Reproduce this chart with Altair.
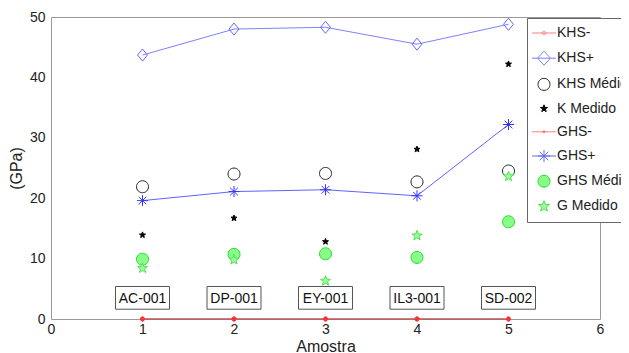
import math
import altair as alt
import pandas as pd

# ---------------- data ----------------
samples = [1, 2, 3, 4, 5]
sample_labels = ["AC-001", "DP-001", "EY-001", "IL3-001", "SD-002"]
label_y = [3.5, 3.5, 3.5, 3.5, 3.5]

khs_minus = [0, 0, 0, 0, 0]
khs_plus = [43.7, 48.0, 48.3, 45.5, 48.8]
khs_medio = [21.9, 24.0, 24.1, 22.7, 24.5]
k_medido = [13.9, 16.7, 12.8, 28.1, 42.2]
ghs_minus = [0, 0, 0, 0, 0]
ghs_plus = [19.6, 21.1, 21.4, 20.4, 32.2]
ghs_medio = [9.9, 10.7, 10.8, 10.2, 16.1]
g_medido = [8.4, 9.8, 6.3, 13.8, 23.6]

series_names = ["KHS-", "KHS+", "KHS Médio", "K Medido",
                "GHS-", "GHS+", "GHS Médio", "G Medido"]
series_values = [khs_minus, khs_plus, khs_medio, k_medido,
                 ghs_minus, ghs_plus, ghs_medio, g_medido]
line_series = ["KHS-", "KHS+", "GHS-", "GHS+"]

x_ticks = [0, 1, 2, 3, 4, 5, 6]
y_ticks = [0, 10, 20, 30, 40, 50]

rows = []
for name, vals in zip(series_names, series_values):
    for xv, yv in zip(samples, vals):
        rows.append({"serie": name, "amostra": xv, "valor": yv})
df = pd.DataFrame(rows)
labels_df = pd.DataFrame({"amostra": samples, "rotulo": sample_labels, "valor": label_y})

# ---------------- styles ----------------
FONT = "Liberation Sans"


def star_path(r_out, r_in):
    pts = []
    for i in range(10):
        r = r_out if i % 2 == 0 else r_in
        a = -math.pi / 2 + i * math.pi / 5
        pts.append(f"{r * math.cos(a):.3f},{r * math.sin(a):.3f}")
    return "M" + "L".join(pts) + "Z"


def circle_path(r):
    return f"M{-r},0A{r},{r} 0 1,0 {r},0A{r},{r} 0 1,0 {-r},0"


DIAMOND = "M0,-1.1L0.9,0L0,1.1L-0.9,0Z"
ASTER = "M-1,0H1M0,-1V1M-0.7,-0.7L0.7,0.7M-0.7,0.7L0.7,-0.7"
STAR = star_path(1.0, 0.42)
CIRCLE = circle_path(1.0)

plot_style = {
    "KHS-": dict(shape=CIRCLE, size=16, stroke="#ff3333", fill="#ff3333"),
    "KHS+": dict(shape=DIAMOND, size=121, stroke="#6666ff", fill="transparent"),
    "KHS Médio": dict(shape=CIRCLE, size=144, stroke="#222222", fill="transparent"),
    "K Medido": dict(shape=STAR, size=40, stroke="#000000", fill="#000000"),
    "GHS-": dict(shape=CIRCLE, size=16, stroke="#ff3333", fill="#ff3333"),
    "GHS+": dict(shape=ASTER, size=121, stroke="#3333ff", fill="transparent"),
    "GHS Médio": dict(shape=CIRCLE, size=144, stroke="#22dd22", fill="#88ff88"),
    "G Medido": dict(shape=STAR, size=110, stroke="#55e055", fill="#99ff99"),
}
line_colors = {"KHS-": "#c86060", "KHS+": "#8080ff", "GHS-": "#b85050", "GHS+": "#6262ff"}

LINE = "M-2.4,0H2.4"
legend_shapes = [
    LINE + circle_path(0.35),
    LINE + "M0,-1.4L1.3,0L0,1.4L-1.3,0Z",
    circle_path(1.2),
    star_path(0.75, 0.3),
    LINE + circle_path(0.22),
    LINE + "M-1.2,0H1.2M0,-1.2V1.2M-0.85,-0.85L0.85,0.85M-0.85,0.85L0.85,-0.85",
    circle_path(1.2),
    star_path(1.15, 0.48),
]
legend_stroke = ["#ff7f7f", "#7f7fff", "#222222", "#000000",
                 "#ff7f7f", "#6666ff", "#22dd22", "#55e055"]
legend_fill = ["transparent", "transparent", "transparent", "#000000",
               "#ff3333", "transparent", "#88ff88", "#99ff99"]

x_enc = alt.X("amostra:Q", scale=alt.Scale(domain=[0, 6], nice=False),
              axis=alt.Axis(values=x_ticks, title="Amostra", grid=False, domain=False,
                            ticks=False, labelPadding=3, labelFont=FONT, labelFontSize=14,
                            labelColor="#222", titleFont=FONT, titleFontSize=16,
                            titleFontWeight="normal", titleColor="#222", titlePadding=2,
                            labelFlush=False))
y_enc = alt.Y("valor:Q", scale=alt.Scale(domain=[0, 50], nice=False),
              axis=alt.Axis(values=y_ticks, title="(GPa)", grid=False, domain=False,
                            ticks=False, labelPadding=6, labelFont=FONT, labelFontSize=14,
                            labelColor="#222", titleFont=FONT, titleFontSize=16,
                            titleFontWeight="normal", titleColor="#222", titlePadding=5))

base = alt.Chart(df)

layers = []
for name in series_names:
    sub = base.transform_filter(alt.datum.serie == name)
    if name in line_series:
        layers.append(sub.mark_line(strokeWidth=1, color=line_colors[name]).encode(
            x=x_enc, y=y_enc))
    st = plot_style[name]
    layers.append(sub.mark_point(opacity=1, strokeWidth=1, shape=st["shape"],
                                 size=st["size"], stroke=st["stroke"], fill=st["fill"]
                                 ).encode(x=x_enc, y=y_enc))

boxes = alt.Chart(labels_df).mark_point(
    shape="M-1,-0.42H1V0.42H-1Z", size=2916, fill="white", stroke="#555555",
    strokeWidth=1, opacity=1
).encode(x=x_enc, y=y_enc)

texts = alt.Chart(labels_df).mark_text(
    font=FONT, fontSize=14, color="#111111", baseline="middle", dy=1
).encode(x=x_enc, y=y_enc, text="rotulo:N")

leg = alt.Legend(orient="none", legendX=476, legendY=1, title=None, padding=8,
                 symbolOffset=2, labelOffset=6, rowPadding=9.2, fillColor="white",
                 strokeColor="#666666", symbolSize=100, symbolStrokeWidth=1,
                 labelFont=FONT, labelFontSize=14, labelColor="#222", labelLimit=300)

legend_layer = base.transform_filter("false").mark_point(opacity=1, strokeWidth=1).encode(
    x=x_enc, y=y_enc,
    shape=alt.Shape("serie:N", scale=alt.Scale(domain=series_names, range=legend_shapes),
                    legend=leg),
    stroke=alt.Stroke("serie:N", scale=alt.Scale(domain=series_names, range=legend_stroke),
                      legend=leg),
    fill=alt.Fill("serie:N", scale=alt.Scale(domain=series_names, range=legend_fill),
                  legend=leg),
)

chart = alt.layer(*layers, boxes, texts, legend_layer).properties(
    width=549, height=302,
    padding={"left": 43, "top": 9, "right": 21, "bottom": 34},
    autosize=alt.AutoSizeParams(type="none"),
).configure_view(stroke="#999999", strokeWidth=1)

chart.save("out.html", embed_options={"renderer": "svg", "actions": False})
